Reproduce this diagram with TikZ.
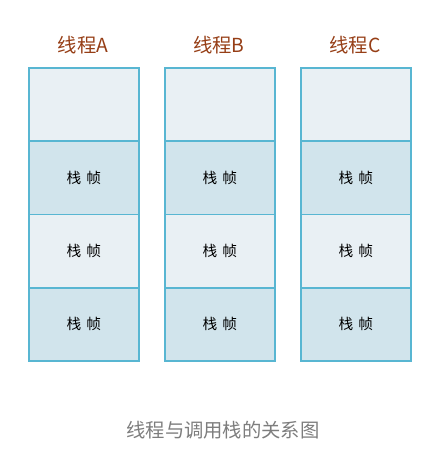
\documentclass[tikz,border=0pt]{standalone}
\usepackage{fontspec}
\newfontfamily\cjk{Noto Sans CJK SC}
\definecolor{cellA}{RGB}{233,240,244}
\definecolor{cellB}{RGB}{209,228,236}
\definecolor{edge}{RGB}{88,182,210}
\definecolor{ttl}{RGB}{150,62,22}
\definecolor{cap}{RGB}{125,125,125}
\begin{document}
\begin{tikzpicture}[x=0.75pt,y=-0.75pt,
  cellbox/.style={draw=edge,line width=1.2pt,minimum width=82.5pt,minimum height=55pt,inner sep=0pt,anchor=north west,font=\cjk\fontsize{11}{13}\selectfont},
  lite/.style={cellbox,fill=cellA},
  dark/.style={cellbox,fill=cellB},
  title/.style={text=ttl,font=\cjk\fontsize{14.5}{16}\selectfont},
  caption/.style={text=cap,font=\cjk\fontsize{14.5}{16}\selectfont}]
\useasboundingbox (0,0) rectangle (441,454);
\foreach \x/\n/\l in {28/a/A,164/b/B,300/c/C}{
  \node[lite] (\n0) at (\x,67) {};
  \node[dark] (\n1) at (\x,140.3) {栈\hspace{0.35em}帧};
  \node[lite] (\n2) at (\x,213.6) {栈\hspace{0.35em}帧};
  \node[dark] (\n3) at (\x,286.9) {栈\hspace{0.35em}帧};
  \node[title] (t\n) at (\x+55,45) {线程\l};
}
\node[caption] (cap) at (223,430) {线程与调用栈的关系图};
\end{tikzpicture}
\end{document}
